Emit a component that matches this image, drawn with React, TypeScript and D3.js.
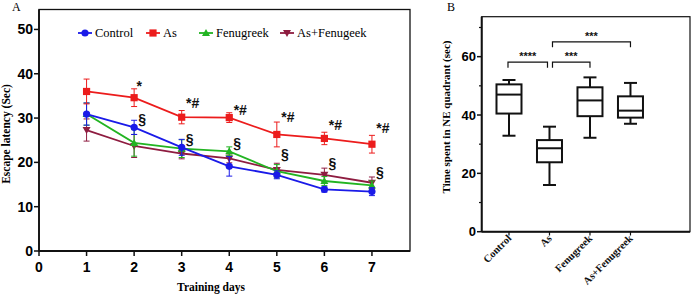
import React from "react";
import * as d3 from "d3";

// ---------- Panel A data ----------
const days = [1, 2, 3, 4, 5, 6, 7];
const seriesNames = ["Control", "As", "Fenugreek", "As+Fenugeek"];
const controlMean = [30.9, 27.9, 23.4, 19.1, 17.2, 13.9, 13.4];
const controlErr = [2.5, 1.6, 1.8, 2.2, 0.9, 0.6, 0.9];
const asMean = [36.0, 34.6, 30.2, 30.1, 26.3, 25.4, 24.1];
const asErr = [2.8, 2.0, 1.5, 1.1, 2.8, 1.4, 2.0];
const fenMean = [30.9, 24.4, 23.1, 22.5, 18.0, 15.8, 14.8];
const fenErr = [2.5, 3.0, 2.0, 1.0, 1.5, 1.0, 1.0];
const asFenMean = [27.3, 23.7, 22.0, 20.9, 18.3, 17.2, 15.4];
const asFenErr = [2.5, 2.6, 1.2, 1.0, 1.5, 1.5, 1.3];
const yTicksA = [0, 10, 20, 30, 40, 50];
const xTicksA = [0, 1, 2, 3, 4, 5, 6, 7];
const starDays = [2, 3, 4, 5, 6, 7];
const starValues = [36.2, 32.3, 30.7, 29.1, 27.3, 26.6];
const starLabels = ["*", "*#", "*#", "*#", "*#", "*#"];
const sectDays = [2, 3, 4, 5, 6, 7];
const sectValues = [28.7, 24.2, 23.3, 20.8, 18.7, 16.7];

// ---------- Panel B data ----------
const groups = ["Control", "As", "Fenugreek", "As+Fenugreek"];
const whiskerLow = [32.9, 16.0, 32.2, 37.0];
const q1 = [40.5, 23.8, 39.6, 39.1];
const median = [47.0, 28.6, 45.0, 41.5];
const q3 = [50.5, 31.4, 49.5, 46.4];
const whiskerHigh = [52.0, 36.0, 52.9, 51.0];
const yTicksB = [0, 20, 40, 60];
const yMinorB = [10, 30, 50, 70];
const bracketFrom = [0, 1, 1];
const bracketTo = [1, 2, 3];
const bracketLevel = [58.1, 58.1, 65.1];
const bracketLabels = ["****", "***", "***"];

const colors = ["#1a1ae8", "#ec1c1c", "#22b422", "#8e1c40"];
const SERIF = "'Liberation Serif', 'Times New Roman', serif";
const SANS = "'Liberation Sans', Arial, sans-serif";

function Marker({ type, x, y, color }: { type: number; x: number; y: number; color: string }) {
  if (type === 0) return <circle cx={x} cy={y} r={3.6} fill={color} />;
  if (type === 1) return <rect x={x - 3.6} y={y - 3.6} width={7.2} height={7.2} fill={color} />;
  if (type === 2)
    return <path d={`M${x},${y - 4} L${x + 4},${y + 3} L${x - 4},${y + 3} Z`} fill={color} />;
  return <path d={`M${x},${y + 4} L${x + 4},${y - 3} L${x - 4},${y - 3} Z`} fill={color} />;
}

export default function App() {
  const xA = d3.scaleLinear().domain([0, 7.8]).range([39, 410]);
  const yA = d3.scaleLinear().domain([0, 54.5]).range([251, 9.5]);
  const means = [controlMean, asMean, fenMean, asFenMean];
  const errs = [controlErr, asErr, fenErr, asFenErr];
  const line = d3
    .line<number>()
    .x((_, i) => xA(days[i]))
    .y((v) => yA(v));
  const order = [3, 2, 0, 1];

  const xB = d3.scaleLinear().domain([-0.674, 4.47]).range([481.7, 690]);
  const yB = d3.scaleLinear().domain([0, 73.7]).range([231.7, 16.7]);

  const legendX = [78, 146, 199, 280];

  return (
    <svg
      width={692}
      height={294}
      style={{ position: "absolute", left: 0, top: 0, display: "block", background: "#fff" }}
    >
      {/* Panel A */}
      <text x={12} y={10.5} fontFamily={SERIF} fontSize={12}>A</text>
      <rect x={39} y={9.5} width={371} height={241.5} fill="none" stroke="#111" strokeWidth={1.3} />
      <line x1={39} x2={39} y1={9.5} y2={251} stroke="#111" strokeWidth={1.8} />
      <line x1={39} x2={410} y1={251} y2={251} stroke="#111" strokeWidth={1.8} />
      {yTicksA.map((t) => (
        <g key={"ya" + t}>
          <line x1={34} x2={39} y1={yA(t)} y2={yA(t)} stroke="#111" strokeWidth={1.5} />
          <text x={33} y={yA(t)} dy="0.36em" textAnchor="end" fontFamily={SANS} fontWeight="bold" fontSize={14}>
            {t}
          </text>
        </g>
      ))}
      {xTicksA.map((t) => (
        <g key={"xa" + t}>
          <line x1={xA(t)} x2={xA(t)} y1={251} y2={256} stroke="#111" strokeWidth={1.5} />
          <text x={xA(t)} y={272} textAnchor="middle" fontFamily={SANS} fontWeight="bold" fontSize={14}>
            {t}
          </text>
        </g>
      ))}
      <text x={211} y={291} textAnchor="middle" fontFamily={SERIF} fontWeight="bold" fontSize={11.5}>
        Training days
      </text>
      <text
        transform={`translate(10,134) rotate(-90)`}
        textAnchor="middle"
        fontFamily={SERIF}
        fontWeight="bold"
        fontSize={11.5}
      >
        Escape latency (Sec)
      </text>

      {order.map((s) => (
        <g key={"s" + s}>
          {means[s].map((m, i) => (
            <g key={i} stroke={colors[s]} strokeWidth={1}>
              <line x1={xA(days[i])} x2={xA(days[i])} y1={yA(m - errs[s][i])} y2={yA(m + errs[s][i])} />
              <line x1={xA(days[i]) - 3} x2={xA(days[i]) + 3} y1={yA(m - errs[s][i])} y2={yA(m - errs[s][i])} />
              <line x1={xA(days[i]) - 3} x2={xA(days[i]) + 3} y1={yA(m + errs[s][i])} y2={yA(m + errs[s][i])} />
            </g>
          ))}
          <path d={line(means[s]) || ""} fill="none" stroke={colors[s]} strokeWidth={1.8} />
          {means[s].map((m, i) => (
            <Marker key={"m" + i} type={s} x={xA(days[i])} y={yA(m)} color={colors[s]} />
          ))}
        </g>
      ))}

      {starDays.map((d, i) => (
        <text
          key={"st" + i}
          x={xA(d) + (i === 0 ? 5 : 11)}
          y={yA(starValues[i])}
          textAnchor="middle"
          fontFamily={SANS}
          fontWeight="bold"
          fontSize={14}
          fill="#111"
        >
          {starLabels[i]}
        </text>
      ))}
      {sectDays.map((d, i) => (
        <text
          key={"se" + i}
          x={xA(d) + 8}
          y={yA(sectValues[i])}
          textAnchor="middle"
          fontFamily={SANS}
          fontWeight="bold"
          fontSize={14}
          fill="#111"
        >
          §
        </text>
      ))}

      {/* Legend */}
      {seriesNames.map((n, i) => (
        <g key={"lg" + i}>
          <line x1={legendX[i]} x2={legendX[i] + 14} y1={33} y2={33} stroke={colors[i]} strokeWidth={1.8} />
          <Marker type={i} x={legendX[i] + 7} y={33} color={colors[i]} />
          <text x={legendX[i] + 17} y={33} dy="0.35em" fontFamily={SERIF} fontSize={12.5}>
            {n}
          </text>
        </g>
      ))}

      {/* Panel B */}
      <text x={447} y={10.5} fontFamily={SERIF} fontSize={12}>B</text>
      <rect x={481.7} y={16.7} width={208.3} height={215} fill="none" stroke="#111" strokeWidth={1.2} />
      <line x1={481.7} x2={481.7} y1={16.7} y2={231.7} stroke="#111" strokeWidth={2} />
      <line x1={481.7} x2={690} y1={231.7} y2={231.7} stroke="#111" strokeWidth={2} />
      {yTicksB.map((t) => (
        <g key={"yb" + t}>
          <line x1={477} x2={481.7} y1={yB(t)} y2={yB(t)} stroke="#111" strokeWidth={1.5} />
          <text x={476} y={yB(t)} dy="0.36em" textAnchor="end" fontFamily={SANS} fontWeight="bold" fontSize={13}>
            {t}
          </text>
        </g>
      ))}
      {yMinorB.map((t) => (
        <line key={"ym" + t} x1={479} x2={481.7} y1={yB(t)} y2={yB(t)} stroke="#111" strokeWidth={1.2} />
      ))}
      <text
        transform={`translate(450,117) rotate(-90)`}
        textAnchor="middle"
        fontFamily={SERIF}
        fontWeight="bold"
        fontSize={11}
      >
        Time spent in NE quadrant (sec)
      </text>
      {groups.map((g, i) => {
        const cx = xB(i);
        return (
          <g key={"bx" + i} stroke="#111" strokeWidth={2} fill="none">
            <line x1={cx} x2={cx} y1={231.7} y2={235.5} strokeWidth={1.2} />
            <line x1={cx} x2={cx} y1={yB(whiskerLow[i])} y2={yB(q1[i])} />
            <line x1={cx} x2={cx} y1={yB(q3[i])} y2={yB(whiskerHigh[i])} />
            <line x1={cx - 6.5} x2={cx + 6.5} y1={yB(whiskerLow[i])} y2={yB(whiskerLow[i])} />
            <line x1={cx - 6.5} x2={cx + 6.5} y1={yB(whiskerHigh[i])} y2={yB(whiskerHigh[i])} />
            <rect x={cx - 12.5} y={yB(q3[i])} width={25} height={yB(q1[i]) - yB(q3[i])} fill="#fff" />
            <line x1={cx - 12.5} x2={cx + 12.5} y1={yB(median[i])} y2={yB(median[i])} />
            <text
              transform={`translate(${cx + 3},${239}) rotate(-45)`}
              textAnchor="end"
              fontFamily={SERIF}
              fontWeight="bold"
              fontSize={10.5}
              fill="#111"
              stroke="none"
            >
              {g}
            </text>
          </g>
        );
      })}
      {bracketLabels.map((b, i) => {
        const x1 = xB(bracketFrom[i]) + (i === 0 ? -1 : 3);
        const x2 = xB(bracketTo[i]) - (i === 0 ? 2 : 0);
        const y = yB(bracketLevel[i]);
        return (
          <g key={"br" + i}>
            <path d={`M${x1},${y + 5.5} V${y} H${x2} V${y + 5.5}`} fill="none" stroke="#111" strokeWidth={1.2} />
            <text x={(x1 + x2) / 2} y={y - 2} textAnchor="middle" fontFamily={SANS} fontWeight="bold" fontSize={11} fill="#111">
              {b}
            </text>
          </g>
        );
      })}
    </svg>
  );
}
